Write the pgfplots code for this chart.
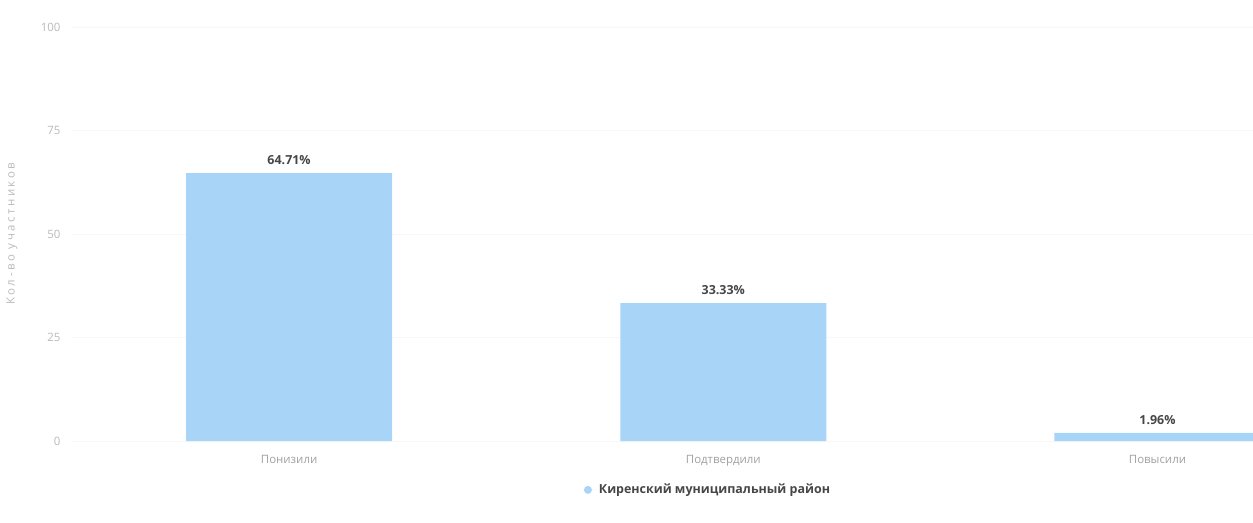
\documentclass[border=0pt]{standalone}
\usepackage{fontspec}
\setmainfont{Open Sans}
\usepackage{pgfplots}
\pgfplotsset{compat=1.18}
\definecolor{barblue}{RGB}{168,212,247}
\definecolor{ticktext}{RGB}{185,185,185}
\definecolor{cattext}{RGB}{160,160,160}
\definecolor{labtext}{RGB}{70,70,70}
\begin{document}
\begin{tikzpicture}
\useasboundingbox (-72bp,-82bp) rectangle (1181bp,441bp);
\begin{axis}[
  scale only axis, width=1181bp, height=414bp,
  xmin=-0.5, xmax=2.22, ymin=0, ymax=100,
  ytick={0,25,50,75,100},
  xtick={0,1,2}, xticklabels={Понизили,Подтвердили,Повысили},
  axis line style={draw=none}, major tick style={draw=none},
  ymajorgrids, grid style={gray!6},
  /pgf/number format/assume math mode=true,
  yticklabel style={font=\fontsize{11.5}{13}\selectfont, text=ticktext, xshift=-8bp},
  xticklabel style={font=\fontsize{11.5}{13}\selectfont, text=cattext, yshift=-11bp},
  ylabel={Кол-во участников},
  ylabel style={at={(axis description cs:-0.0508,0.5)}, anchor=center, font=\fontsize{11.5}{13}\selectfont\addfontfeature{LetterSpace=22}, text=ticktext},
  legend style={at={(axis description cs:0.5385,-0.118)}, anchor=center, draw=none, fill=none, font=\fontsize{12.5}{14}\selectfont\bfseries, text=labtext},
  legend image code/.code={\fill[barblue] (0,0) circle (4bp); \path (-4bp,0) -- (9bp,0);},
]
\addplot[ybar, bar width=206bp, bar shift=0pt, fill=barblue, draw=none,
  point meta=explicit symbolic,
  nodes near coords,
  every node near coord/.append style={font=\fontsize{12.5}{14}\selectfont\bfseries, text=labtext, yshift=5bp}]
  coordinates {(0,64.71) [64.71\%] (1,33.33) [33.33\%] (2,1.96) [1.96\%]};
\addlegendentry{Киренский муниципальный район}
\end{axis}
\end{tikzpicture}
\end{document}
